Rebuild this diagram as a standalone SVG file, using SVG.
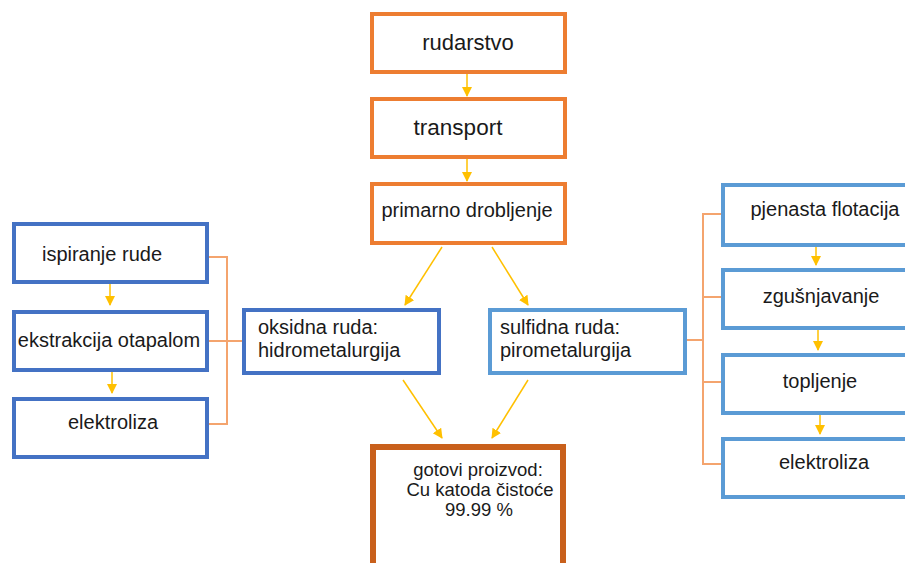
<svg xmlns="http://www.w3.org/2000/svg" width="905" height="563" viewBox="0 0 905 563">
<defs>
<style>
.o{fill:#fff;stroke:#ED7D31;stroke-width:4}
.db{fill:#fff;stroke:#4472C4;stroke-width:4}
.lb{fill:#fff;stroke:#5B9BD5;stroke-width:4}
.g{fill:#fff;stroke:#C9601C;stroke-width:6}
text{font-family:"Liberation Sans",Arial,sans-serif;font-size:20px;fill:#1a1a1a}
text.t1{font-size:22px}
text.t2{font-size:22.5px}
text.s{font-size:18.5px}
.c{text-anchor:middle}
.a{stroke:#FFC000;stroke-width:1.5;fill:none;marker-end:url(#ah)}
.br{stroke:#F4A46E;stroke-width:2;fill:none}
</style>
<marker id="ah" markerUnits="userSpaceOnUse" markerWidth="12" markerHeight="12" refX="9" refY="5" orient="auto">
<path d="M0,0 L10,5 L0,10 Z" fill="#FFC000"/>
</marker>
</defs>
<g id="connectors">
<line class="a" x1="467" y1="73" x2="467" y2="96"/>
<line class="a" x1="467" y1="158" x2="467" y2="181"/>
<line class="a" x1="442" y1="247" x2="405" y2="305"/>
<line class="a" x1="492" y1="247" x2="528" y2="305"/>
<line class="a" x1="403" y1="380" x2="442" y2="438"/>
<line class="a" x1="528" y1="380" x2="492" y2="438"/>
<line class="a" x1="110" y1="283" x2="110" y2="305"/>
<line class="a" x1="112" y1="371" x2="112" y2="393"/>
<line class="a" x1="816" y1="246" x2="816" y2="265"/>
<line class="a" x1="818" y1="329" x2="818" y2="350"/>
<line class="a" x1="820" y1="414" x2="820" y2="434"/>
<path class="br" d="M208,257 H227 V424 H208 M208,341 H243"/>
<path class="br" d="M722,214 H703 V464 H722 M722,297 H703 M722,382 H703 M686,340 H703"/>
</g>
<g id="rudarstvo"><rect class="o" x="372" y="14" width="193" height="58"/><text class="c t1" x="468" y="50">rudarstvo</text></g>
<g id="transport"><rect class="o" x="372" y="99" width="193" height="58"/><text class="c t2" x="458" y="135">transport</text></g>
<g id="primarno"><rect class="o" x="372" y="184" width="193" height="59"/><text class="c" x="467" y="217">primarno drobljenje</text></g>
<g id="ispiranje"><rect class="db" x="14" y="224" width="193" height="58"/><text class="c" x="102" y="261">ispiranje rude</text></g>
<g id="ekstrakcija"><rect class="db" x="14" y="312" width="193" height="58"/><text class="c" x="109" y="347">ekstrakcija otapalom</text></g>
<g id="elektroliza-l"><rect class="db" x="14" y="399" width="193" height="58"/><text class="c" x="113" y="429">elektroliza</text></g>
<g id="oksidna"><rect class="db" x="244" y="310" width="195" height="63"/><text x="258" y="334">oksidna ruda:</text><text x="258" y="357">hidrometalurgija</text></g>
<g id="sulfidna"><rect class="lb" x="490" y="310" width="195" height="63"/><text x="500" y="334">sulfidna ruda:</text><text x="500" y="357">pirometalurgija</text></g>
<g id="pjenasta"><rect class="lb" x="723" y="185" width="190" height="60"/><text class="c" x="825" y="216">pjenasta flotacija</text></g>
<g id="zgusnjavanje"><rect class="lb" x="723" y="270" width="190" height="58"/><text class="c" x="821" y="303">zgušnjavanje</text></g>
<g id="topljenje"><rect class="lb" x="723" y="355" width="190" height="58"/><text class="c" x="820" y="388">topljenje</text></g>
<g id="elektroliza-r"><rect class="lb" x="723" y="439" width="190" height="58"/><text class="c" x="824" y="469">elektroliza</text></g>
<g id="gotovi"><rect class="g" x="373" y="447" width="190" height="130"/><text class="c s" x="478" y="476">gotovi proizvod:</text><text class="c s" x="480" y="496">Cu katoda čistoće</text><text class="c s" x="479" y="516">99.99 %</text></g>
</svg>
